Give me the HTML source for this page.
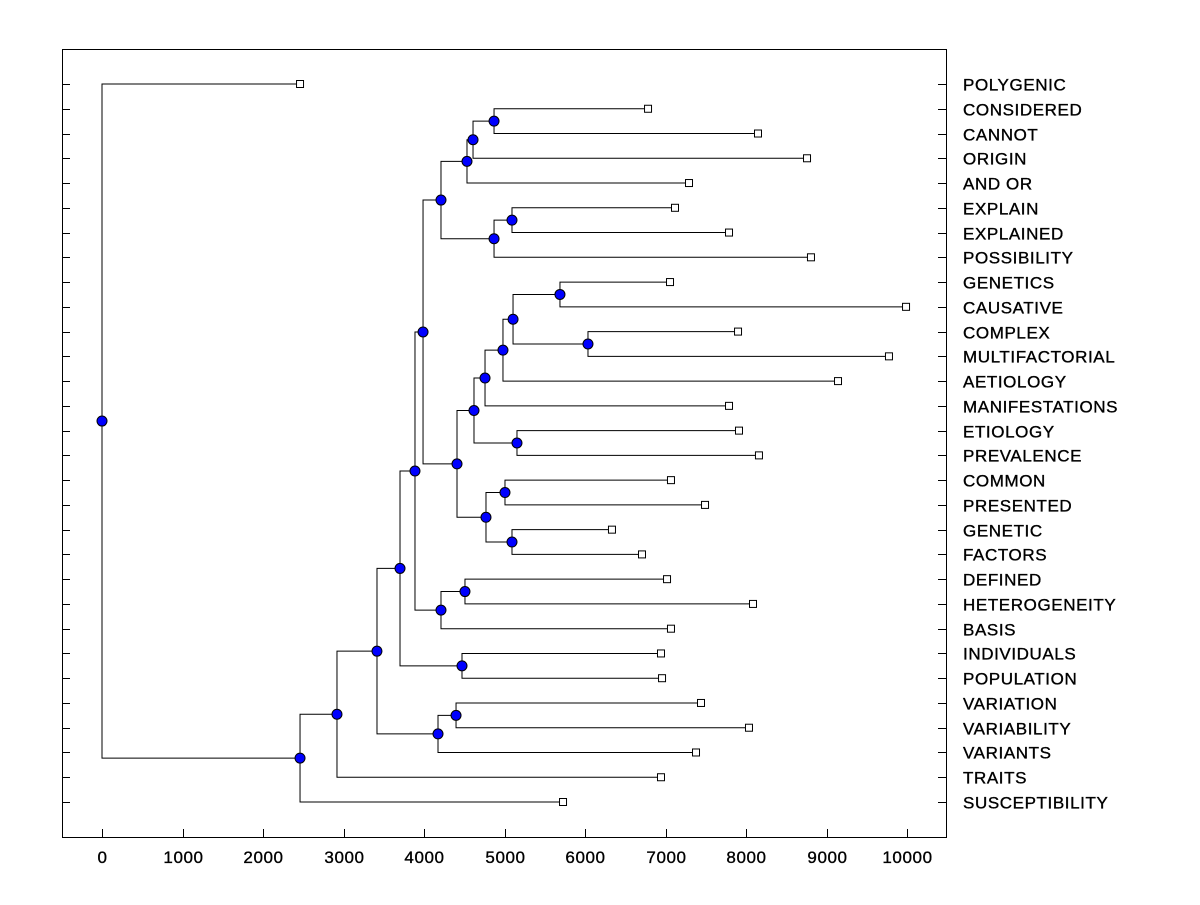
<!DOCTYPE html>
<html><head><meta charset="utf-8"><style>
body{margin:0;background:#fff;}
svg text{font-family:"Liberation Sans",Arial,sans-serif;font-size:17px;letter-spacing:0.6px;fill:#000;stroke:#000;stroke-width:0.35px;}
</style></head><body>
<svg id="c" width="1200" height="900"></svg>
<script>
const leafLabels=["POLYGENIC","CONSIDERED","CANNOT","ORIGIN","AND OR","EXPLAIN","EXPLAINED","POSSIBILITY","GENETICS","CAUSATIVE","COMPLEX","MULTIFACTORIAL","AETIOLOGY","MANIFESTATIONS","ETIOLOGY","PREVALENCE","COMMON","PRESENTED","GENETIC","FACTORS","DEFINED","HETEROGENEITY","BASIS","INDIVIDUALS","POPULATION","VARIATION","VARIABILITY","VARIANTS","TRAITS","SUSCEPTIBILITY"];
const leafValues=[2460,6783,8149,8758,7292,7118,7789,8807,7056,9988,7901,9776,9143,7789,7913,8161,7068,7491,6335,6708,7019,8087,7068,6944,6957,7441,8037,7379,6944,5727];
// merges: [childA, childB, height]; leaves are indices 0..29, nodes are "n"+index
const merges=[
 [1,2,4870],["n0",3,4609],["n1",4,4534],[5,6,5093],["n3",7,4870],["n2","n4",4211],
 [8,9,5689],[10,11,6037],["n6","n7",5106],["n8",12,4981],["n9",13,4758],[14,15,5155],["n10","n11",4621],
 [16,17,5006],[18,19,5093],["n13","n14",4770],["n12","n15",4410],["n5","n16",3988],
 [20,21,4509],["n18",22,4211],["n17","n19",3888],[23,24,4472],["n20","n21",3702],
 [25,26,4398],["n23",27,4174],["n22","n24",3416],["n25",28,2919],["n26",29,2460],[0,"n27",0]
];
const xTicks=[0,1000,2000,3000,4000,5000,6000,7000,8000,9000,10000];
const svg=document.getElementById('c');const NS='http://www.w3.org/2000/svg';
const L=62,R=946,T=49,B=837;
const xs=v=>102+v*(907-102)/10000;
const ys=i=>84+i*(802-84)/29;
function mk(t,a,name){const e=document.createElementNS(NS,t);for(const k in a)e.setAttribute(k,a[k]);


svg.appendChild(e);return e;}
mk('rect',{x:L+.5,y:T+.5,width:R-L,height:B-T,fill:'none',stroke:'#000'},'plot-frame');
leafLabels.forEach((l,i)=>{const y=Math.round(ys(i))+.5;
 mk('line',{x1:L,x2:L+8,y1:y,y2:y,stroke:'#000'},'left-tick');
 mk('line',{x1:R-8,x2:R,y1:y,y2:y,stroke:'#000'},'right-tick');
 const t=mk('text',{x:963,y:y+6},'leaf-label');t.textContent=l;});
xTicks.forEach(v=>{const x=Math.round(xs(v))+.5;
 mk('line',{x1:x,x2:x,y1:B,y2:B-8,stroke:'#000'},'x-tick');
 const t=mk('text',{x:x,y:863,'text-anchor':'middle'},'x-tick-label');t.textContent=v;});
const pos={};leafValues.forEach((v,i)=>pos[i]={x:xs(v),y:ys(i)});
const nodes=[];
merges.forEach((m,k)=>{const a=pos[m[0]],b=pos[m[1]],x=xs(m[2]);const y=(a.y+b.y)/2;
 mk('path',{d:`M${a.x},${a.y}H${x}V${b.y}H${b.x}`,fill:'none',stroke:'#000'},'branch');
 pos['n'+k]={x:x,y:y};nodes.push(pos['n'+k]);});
leafValues.forEach((v,i)=>mk('rect',{x:pos[i].x-3.5,y:pos[i].y-3.5,width:7,height:7,fill:'#fff',stroke:'#000'},'leaf-marker'));
nodes.forEach(p=>mk('circle',{cx:p.x,cy:p.y,r:5,fill:'#0000ff',stroke:'#000'},'node-marker'));
</script>
</body></html>
